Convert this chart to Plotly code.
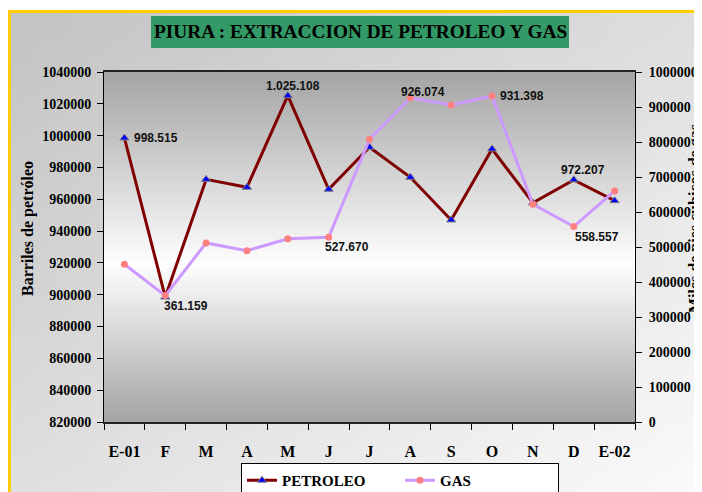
import zlib, struct, base64
import plotly.graph_objects as go

# ---------------- data ----------------
months = ["E-01", "F", "M", "A", "M", "J", "J", "A", "S", "O", "N", "D", "E-02"]
petroleo = [998515, 898500, 972500, 967500, 1025108, 966300, 992700, 973800,
            947000, 991600, 957800, 972207, 959100]
gas = [450600, 361159, 511400, 489400, 523700, 527670, 807700, 926074,
       905700, 931398, 622000, 558557, 660000]
left_ticks = list(range(820000, 1040001, 20000))
right_ticks = list(range(0, 1000001, 100000))

# labelled points: (series, index, xshift, yshift, xanchor)
labels = [
    ("pet", 0, 8, 0, "left"),
    ("gas", 1, -3, -10, "left"),
    ("pet", 4, 5, 10, "center"),
    ("gas", 5, -6, -10, "left"),
    ("gas", 7, 13, 6, "center"),
    ("gas", 9, 6, 0, "left"),
    ("pet", 11, 9, 10, "center"),
    ("gas", 11, -1, -10, "left"),
]

OFF = 8  # page body margin
W, H = 694, 484
L, R, T, B = 96, 67, 64, 70
PW, PH = W - L - R, H - T - B


def px(x):  # page pixel -> paper
    return (x - OFF - L) / PW


def py(y):
    return (H - B - (y - OFF)) / PH


def png_uri(w, h, fn):
    raw = b"".join(b"\x00" + bytes(c for x in range(w) for c in fn(x, y)) for y in range(h))

    def chunk(t, d):
        return struct.pack(">I", len(d)) + t + d + struct.pack(">I", zlib.crc32(t + d) & 0xffffffff)
    png = (b"\x89PNG\r\n\x1a\n" + chunk(b"IHDR", struct.pack(">IIBBBBB", w, h, 8, 2, 0, 0, 0))
           + chunk(b"IDAT", zlib.compress(raw, 9)) + chunk(b"IEND", b""))
    return "data:image/png;base64," + base64.b64encode(png).decode()


def page_px(x, y):
    u, v = x / 63, y / 47
    g = int(196 + 27 * u + 28 * v)
    g = min(g, 252)
    return (g, g, g)


def plot_px(x, y):
    t = y / 63
    c = 0.55
    if t < c:
        f = t / c
        g = 166 + (255 - 166) * f
    else:
        f = (t - c) / (1 - c)
        g = 255 - (255 - 166) * f
    g = int(g)
    return (g, g, g)


page_img = png_uri(64, 48, page_px)
plot_img = png_uri(2, 64, plot_px)

fmt = lambda v: f"{v:,}".replace(",", ".")
serif = "Liberation Serif"
sans = "Liberation Sans"
xs = list(range(len(months)))

fig = go.Figure()
fig.add_trace(go.Scatter(
    x=xs, y=petroleo, name="PETROLEO", mode="lines+markers",
    line=dict(color="#800000", width=3),
    marker=dict(symbol="triangle-up", size=8, color="#0000FF", line=dict(color="#808080", width=1)),
    yaxis="y"))
fig.add_trace(go.Scatter(
    x=xs, y=gas, name="GAS", mode="lines+markers",
    line=dict(color="#CC99FF", width=3),
    marker=dict(symbol="circle", size=7, color="#FF8080"),
    yaxis="y2"))

annotations = []
for s, i, dx, dy, xa in labels:
    v = petroleo[i] if s == "pet" else gas[i]
    annotations.append(dict(
        x=i, y=v, xref="x", yref="y" if s == "pet" else "y2",
        text=fmt(v), showarrow=False, xanchor=xa, yanchor="middle",
        xshift=dx, yshift=dy, font=dict(family=sans, size=12, color="#111", weight="bold")))

# title
annotations.append(dict(
    x=px(360), y=py(32), xref="paper", yref="paper", showarrow=False,
    text="PIURA : EXTRACCION DE PETROLEO Y GAS", xanchor="center", yanchor="middle",
    font=dict(family=serif, size=19.3, color="#000", weight="bold")))
# axis titles
annotations.append(dict(
    x=px(28), y=py(229), xref="paper", yref="paper", showarrow=False, textangle=-90,
    text="Barriles de petróleo", xanchor="center", yanchor="middle",
    font=dict(family=serif, size=16, color="#000", weight="bold")))
annotations.append(dict(
    x=px(695), y=py(219), xref="paper", yref="paper", showarrow=False, textangle=-90,
    text="Miles de pies cúbicos de gas", xanchor="center", yanchor="middle",
    font=dict(family=serif, size=16, color="#000", weight="bold")))

shapes = [
    dict(type="rect", xref="paper", yref="paper", x0=px(151), x1=px(569), y0=py(16), y1=py(48),
         fillcolor="#339966", line=dict(width=0), layer="below"),
    dict(type="rect", xref="paper", yref="paper", x0=px(8), x1=px(11), y0=py(10), y1=py(OFF + H + 2),
         fillcolor="#FFCC00", line=dict(width=0), layer="below"),
    dict(type="rect", xref="paper", yref="paper", x0=px(8), x1=px(OFF + W + 2), y0=py(10), y1=py(13),
         fillcolor="#FFCC00", line=dict(width=0), layer="below"),
]

images = [
    dict(source=page_img, xref="paper", yref="paper", x=px(11), y=py(13),
         sizex=(OFF + W - 11) / PW, sizey=(OFF + H - 13) / PH, sizing="stretch", layer="below",
         xanchor="left", yanchor="top"),
    dict(source=plot_img, xref="paper", yref="paper", x=0, y=1, sizex=1, sizey=1,
         sizing="stretch", layer="below", xanchor="left", yanchor="top"),
]

tickfont = dict(family=serif, size=14, color="#000", weight="bold")
fig.update_layout(
    width=W, height=H,
    margin=dict(l=L, r=R, t=T, b=B, autoexpand=False),
    paper_bgcolor="#FFFFFF", plot_bgcolor="rgba(0,0,0,0)",
    showlegend=True,
    legend=dict(orientation="h", x=px(241), xanchor="left", y=py(463), yanchor="top",
                bgcolor="#FFFFFF", bordercolor="#000", borderwidth=1,
                font=dict(family=serif, size=15, color="#000", weight="bold"),
                entrywidth=113, entrywidthmode="pixels", itemwidth=30,
                tracegroupgap=0),
    xaxis=dict(range=[-0.5, len(months) - 0.5], tickmode="array", tickvals=xs, ticktext=months,
               ticks="", showgrid=False, zeroline=False, showline=True, linecolor="#222",
               linewidth=2, mirror=True, ticklabelstandoff=14,
               tickfont=dict(family=serif, size=16, color="#000", weight="bold"),
               minor=dict(tickmode="array", tickvals=[i - 0.5 for i in range(len(months) + 1)],
                          ticks="outside", ticklen=6, tickcolor="#000", showgrid=False)),
    yaxis=dict(range=[820000, 1040000], tickmode="array", tickvals=left_ticks,
               ticktext=[str(v) for v in left_ticks], ticks="outside", ticklen=6, tickcolor="#000",
               showgrid=False, zeroline=False, showline=True, linecolor="#000", linewidth=1,
               tickfont=tickfont, ticklabelstandoff=3),
    yaxis2=dict(range=[0, 1000000], tickmode="array", tickvals=right_ticks,
                ticktext=[str(v) for v in right_ticks], overlaying="y", side="right",
                ticks="outside", ticklen=6, tickcolor="#000", showgrid=False, zeroline=False,
                showline=True, linecolor="#000", linewidth=1, tickfont=tickfont,
                ticklabelstandoff=4),
    annotations=annotations, shapes=shapes, images=images,
)

fig.write_html("out.html")
